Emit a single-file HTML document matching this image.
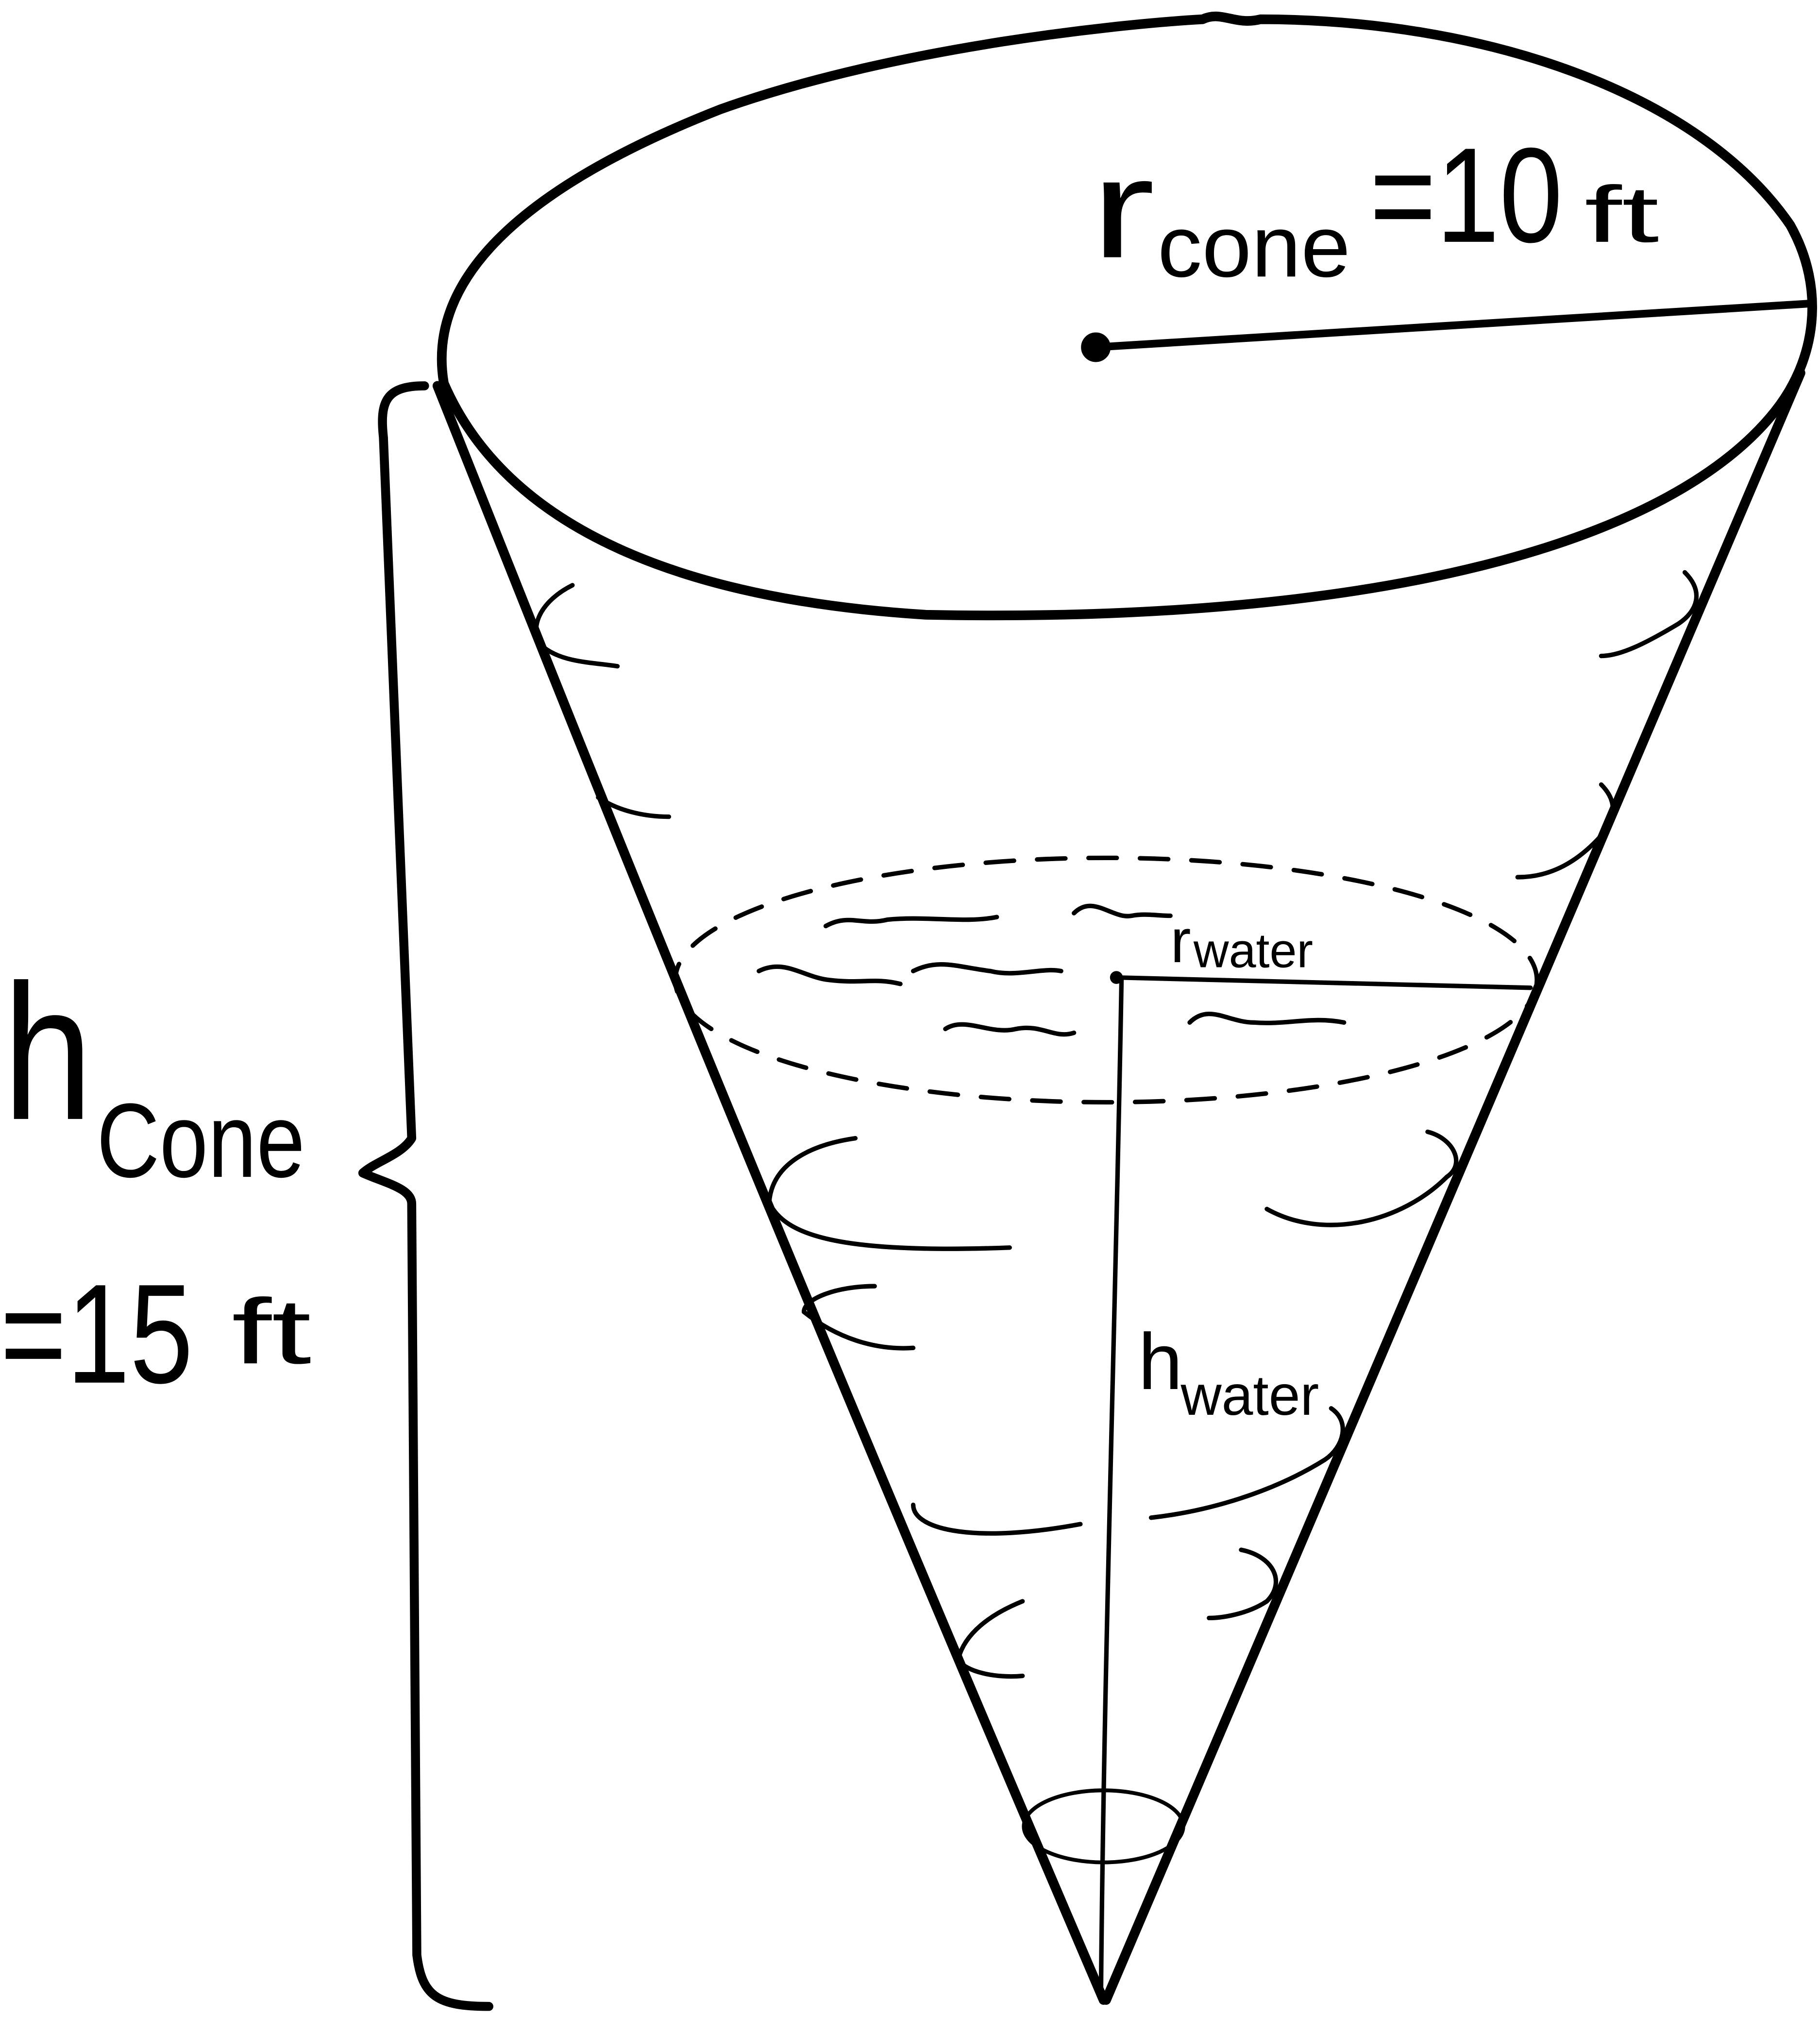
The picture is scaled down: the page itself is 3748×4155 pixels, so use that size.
<!DOCTYPE html>
<html><head><meta charset="utf-8"><style>
html,body{margin:0;padding:0;background:#fff;}
svg{display:block;}
text{font-family:"Liberation Sans",sans-serif;fill:#000;}
</style></head><body>
<svg width="3748" height="4155" viewBox="0 0 1415 1569" xmlns="http://www.w3.org/2000/svg">
<rect width="1415" height="1569" fill="#fff"/>
<g fill="none" stroke="#000" stroke-linecap="round" stroke-linejoin="round">
<path stroke-width="7.5" d="M345,298 C330,210 420,140 560,85 C700,35 880,18 935,15 C950,8 960,20 980,15 C1150,15 1320,70 1392,175 C1420,225 1412,280 1380,320 C1300,420 1080,485 720,478 C560,468 400,425 345,298 Z"/>
<path stroke-width="7.5" d="M340,300 C420,500 560,860 858,1555"/>
<path stroke-width="7.5" d="M1400,290 C1300,520 1120,950 860,1555"/>
<path stroke-width="6" d="M852,270 C1000,262 1200,248 1408,236"/>
<circle cx="852" cy="270" r="11" fill="#000"/>
<path stroke-width="7" d="M330,300 C300,300 295,312 298,340 L320,885 C312,898 292,903 282,912 C300,920 320,924 320,936 L324,1520 C328,1552 340,1560 380,1560"/>
<ellipse cx="860" cy="762" rx="335" ry="95" stroke-width="3.5" stroke-dasharray="22,18"/>
<path stroke-width="3.5" d="M872,760 C868,1000 858,1300 856,1555"/>
<path stroke-width="3.5" d="M868,760 L1190,768"/>
<circle cx="868" cy="760" r="5" fill="#000" stroke="none"/>
<ellipse cx="858" cy="1420" rx="62" ry="28" stroke-width="3"/>
<g stroke-width="3.5">
<path d="M445,455 C415,470 410,495 425,505 C440,515 460,515 480,518"/>
<path d="M465,620 C480,630 500,635 520,635"/>
<path d="M1310,445 C1325,460 1320,475 1305,485 C1280,500 1260,510 1245,510"/>
<path d="M1245,610 C1260,625 1255,640 1240,655 C1220,675 1200,682 1180,682"/>
<path d="M665,885 C630,890 600,905 598,935 C610,960 650,975 785,970"/>
<path d="M680,1000 C650,1000 625,1010 625,1020 C650,1040 680,1050 710,1048"/>
<path d="M1110,880 C1130,885 1140,905 1125,915 C1090,950 1030,965 985,940"/>
<path d="M1035,1095 C1050,1105 1045,1125 1030,1135 C990,1160 940,1175 895,1180"/>
<path d="M710,1170 C710,1190 760,1200 840,1185"/>
<path d="M965,1205 C990,1210 1000,1230 985,1245 C970,1255 950,1258 940,1258"/>
<path d="M795,1245 C770,1255 750,1270 745,1290 C750,1300 775,1305 795,1303"/>
<path d="M642,720 C660,710 670,720 690,715 C720,712 750,718 775,713"/>
<path d="M590,755 C610,745 625,760 645,762 C670,765 680,760 700,765"/>
<path d="M710,755 C730,745 745,752 770,755 C790,760 810,752 825,755"/>
<path d="M735,800 C750,790 770,805 790,800 C810,796 820,808 835,803"/>
<path d="M925,795 C940,780 955,795 975,795 C1000,797 1020,790 1045,795"/>
<path d="M835,710 C850,695 865,715 880,712 C890,710 900,712 910,712"/>
</g>
</g>
<g>
<text x="848" y="200" font-size="110" textLength="50" lengthAdjust="spacingAndGlyphs">r</text>
<text x="900" y="215" font-size="68" textLength="150" lengthAdjust="spacingAndGlyphs">cone</text>
<text x="1065" y="188" font-size="105" textLength="150" lengthAdjust="spacingAndGlyphs">=10</text>
<text x="1232" y="188" font-size="62" textLength="58" lengthAdjust="spacingAndGlyphs">ft</text>
</g>
<g>
<text x="2" y="870" font-size="150" textLength="70" lengthAdjust="spacingAndGlyphs">h</text>
<text x="75" y="915" font-size="82" textLength="162" lengthAdjust="spacingAndGlyphs">Cone</text>
<text x="0" y="1075" font-size="110" textLength="150" lengthAdjust="spacingAndGlyphs">=15</text>
<text x="180" y="1060" font-size="72" textLength="62" lengthAdjust="spacingAndGlyphs">ft</text>
</g>
<g>
<text x="910" y="748" font-size="48">r</text>
<text x="928" y="752" font-size="38">water</text>
</g>
<g>
<text x="885" y="1080" font-size="62">h</text>
<text x="918" y="1100" font-size="44">water</text>
</g>
</svg>
</body></html>
